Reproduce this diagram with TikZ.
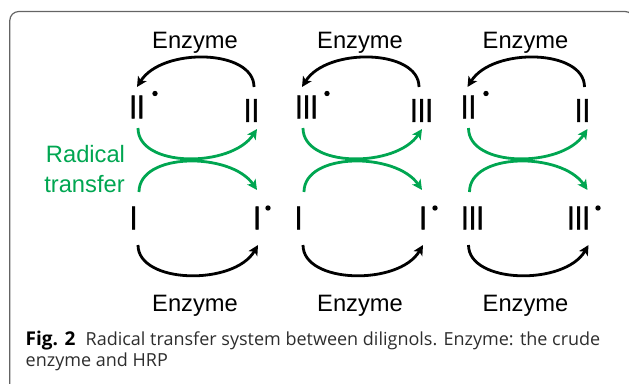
\documentclass[tikz,border=0pt]{standalone}
\usepackage{fontspec}
\setmainfont{Liberation Sans}
\newfontfamily\capfont{Open Sans}
\newfontfamily\numfont[FakeBold=1.5]{Liberation Sans}
\usetikzlibrary{arrows.meta}
\definecolor{rgreen}{RGB}{0,166,81}
\definecolor{framegray}{RGB}{100,100,100}
\definecolor{captext}{RGB}{45,45,45}
\newcommand{\numeral}[1]{\scalebox{0.84}[1]{#1}}
\begin{document}
\begin{tikzpicture}[x=1pt,y=-1pt,
  numeral/.style={inner sep=0pt, font=\numfont\fontsize{33}{33}\selectfont},
  enz/.style={inner sep=0pt, anchor=base, font=\fontsize{23.7}{24}\selectfont},
  radlabel/.style={inner sep=0pt, anchor=base, text=rgreen, font=\fontsize{23.7}{24}\selectfont},
  cyc/.style={line width=2.8pt, -{Stealth[length=10pt,width=10pt,inset=2.5pt]}},
  enzarc/.style={cyc, black},
  radarc/.style={cyc, rgreen},
  radicaldot/.style={fill=black},
  captionstyle/.style={inner sep=0pt, anchor=base west, text=captext,
    font=\capfont\fontsize{18}{20}\selectfont},
]
\useasboundingbox (0,0) rectangle (629,383);
\clip (0,0) rectangle (629,383);

% panel frame
\draw[framegray, line width=1.2pt, rounded corners=9pt] (9.8,11.5) rectangle (634,430);

% three radical transfer cycles
\foreach \o/\g/\tl/\tr/\bl/\br/\tlx/\trx/\blx/\brx/\dta/\dbr in {
    0/1/II/II/I/I/137/251.5/133.5/257/155/268,
    165/2/III/III/I/I/306.5/421.5/298.5/423/327/435,
    330.5/3/II/II/III/III/468.5/582.5/472.5/578.5/486/598}{
  \node[numeral] (tl\g) at (\tlx,107) {\numeral{\tl}};
  \node[numeral] (tr\g) at (\trx,110.5) {\numeral{\tr}};
  \node[numeral] (bl\g) at (\blx,218) {\numeral{\bl}};
  \node[numeral] (br\g) at (\brx,218) {\numeral{\br}};
  \fill[radicaldot] (\dta,93.5) circle (2.7);
  \fill[radicaldot] (\dbr,208) circle (2.7);
  \node[enz] (et\g) at (\o+195,48) {Enzyme};
  \node[enz] (eb\g) at (\o+195,311) {Enzyme};
  \begin{scope}[xshift=\o pt]
    \coordinate (ts\g) at (254,87);
    \coordinate (te\g) at (137,87);
    \coordinate (bs\g) at (138,245);
    \coordinate (be\g) at (258,245);
    \coordinate (us\g) at (138,128);
    \coordinate (ue\g) at (257,129);
    \coordinate (ls\g) at (139,192);
    \coordinate (le\g) at (257,190);
    \draw[enzarc] (ts\g) .. controls (254,49) and (162,47) .. (te\g);
    \draw[enzarc] (bs\g) .. controls (138,284) and (234,286) .. (be\g);
    \draw[radarc] (us\g) .. controls (138,168) and (231,168) .. (ue\g);
    \draw[radarc] (ls\g) .. controls (139,152) and (231,152) .. (le\g);
  \end{scope}
}

\node[radlabel] (rad) at (85.5,162) {Radical};
\node[radlabel] (trf) at (84.5,192) {transfer};

% caption
\node[captionstyle, text=black, font=\capfont\fontsize{19}{20}\selectfont] (fig) at (25.5,345) {\bfseries Fig. 2};
\node[captionstyle] (cap1) at (85.5,345) {Radical transfer system between dilignols. Enzyme: the crude};
\node[captionstyle] (cap2) at (25.5,366.7) {enzyme and HRP};
\end{tikzpicture}
\end{document}
